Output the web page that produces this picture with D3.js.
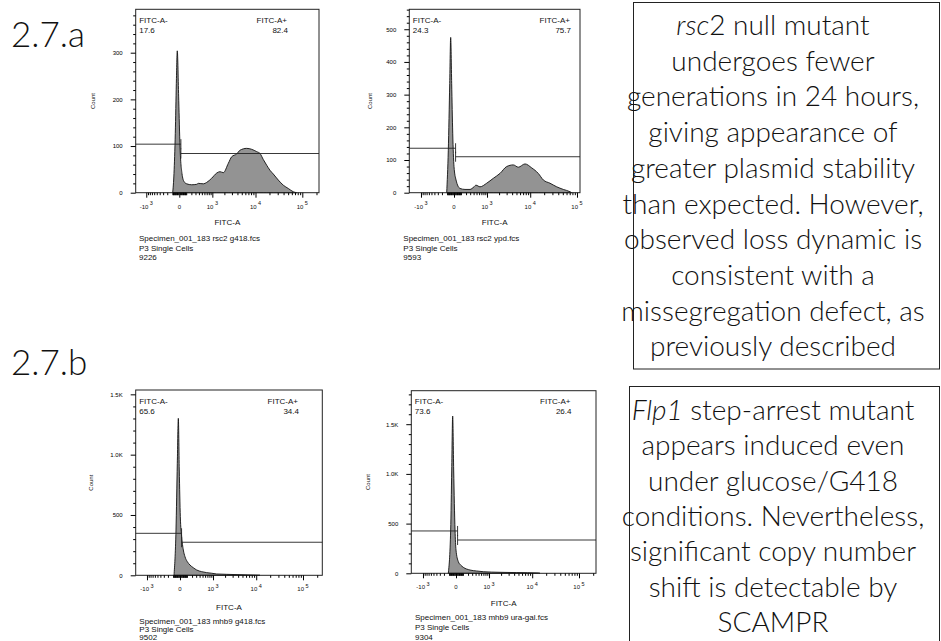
<!DOCTYPE html>
<html><head><meta charset="utf-8">
<script src="https://cdn.jsdelivr.net/npm/d3@7"></script>
<style>body{margin:0;background:#fff}svg{display:block}</style>
</head><body>
<svg id="c" width="941" height="641"></svg>
<script>
// ---------- DATA ----------
const p1Fitc  = [-95,-74,-54,-39,-26,-7,9,35,64,109,207,334,382,557,699,961,1294,1567,1888,2478,2958,3843,4568,6415,8250,10600,12513,14760,17408,20525,24175,30925,39525,50500,64450,75950];
const p1Count = [0,41,127,234,304,198,98,41,24,19,17,18,20,19,22,31,42,45,43,63,77,83,91,95,93,88,84,71,59,48,40,27,16,9,2,0];
const p2Fitc  = [-107,-80,-58,-44,-30,-16,0,26,85,177,296,413,480,638,980,1447,2102,3008,4248,5490,7710,10765,14950,19150,26650,37075,51150,71000,77175];
const p2Count = [0,130,334,475,334,182,80,39,13,10,10,18,23,18,29,44,59,80,85,78,88,76,59,39,29,18,10,3,0];
const p3Fitc  = [-85,-54,-35,-21,-9,4,21,44,69,107,157,228,314,470,668,922,1245,2184,4405,12080];
const p3Count = [0,375,928,1301,873,486,320,210,154,113,85,63,44,30,22,17,11,8,5,0];
const p4Fitc  = [-114,-74,-58,-44,-30,-12,0,30,64,107,244,436,696,1883,4568,13550,14745];
const p4Count = [0,436,1039,1582,1039,436,234,117,83,60,33,23,16,10,7,3,0];

const gateThreshold = [20,20,20,20];
const gateNegCount  = [104,136,348,426];
const gatePosCount  = [84,110,274,335];
const negLabel = "FITC-A-";
const posLabel = "FITC-A+";
const negPercent = ["17.6","24.3","65.6","73.6"];
const posPercent = ["82.4","75.7","34.4","26.4"];
const fileNames = ["Specimen_001_183 rsc2 g418.fcs","Specimen_001_183 rsc2 ypd.fcs","Specimen_001_183 mhb9 g418.fcs","Specimen_001_183 mhb9 ura-gal.fcs"];
const populations = ["P3 Single Cells","P3 Single Cells","P3 Single Cells","P3 Single Cells"];
const eventCounts = ["9226","9593","9502","9304"];
const yTickValues = [[0,100,200,300],[0,100,200,300,400,500],[0,500,1000,1500],[0,500,1000,1500]];
const yTickLabels = [["0","100","200","300"],["0","100","200","300","400","500"],["0","500","1.0K","1.5K"],["0","500","1.0K","1.5K"]];
const xTickValues = [-1000,0,1000,10000,100000];
const xTickBase   = ["-10","0","10","10","10"];
const xTickExp    = ["3","","3","4","5"];
const xAxisTitle = "FITC-A";
const yAxisTitle = "Count";
const sectionLabels = ["2.7.a","2.7.b"];
const noteA = ["*rsc*2 null mutant","undergoes fewer","generations in 24 hours,","giving appearance of","greater plasmid stability","than expected. However,","observed loss dynamic is","consistent with a","missegregation defect, as","previously described"];
const noteB = ["*Flp1* step-arrest mutant","appears induced even","under glucose/G418","conditions. Nevertheless,","significant copy number","shift is detectable by","SCAMPR"];

// ---------- LAYOUT ----------
const layout = [
 {x0:135.7,x1:319,  y0:9.3,  y1:192.7,xMin:-1843,xMax:225975,yMax:393, yMinor:20, countX:93, posX:288, infoX:139,  titleY:224.5,infoY:[241,250.5,260]},
 {x0:409.3,x1:580,  y0:9.3,  y1:192.7,xMin:-1958,xMax:115800,yMax:561, yMinor:20, countX:370,posX:571, infoX:403.3,titleY:224.5,infoY:[241,250.5,260]},
 {x0:135.7,x1:322.3,y0:390,  y1:575.3,xMin:-1915,xMax:256530,yMax:1536,yMinor:100,countX:91, posX:299, infoX:139.3,titleY:609.5,infoY:[623.5,632,640]},
 {x0:411.3,x1:596,  y0:390.7,y1:573.3,xMin:-1958,xMax:229350,yMax:1837,yMinor:100,countX:368,posX:571.5,infoX:415,titleY:606,infoY:[620.3,630,639.5]}
];
const fitcSets = [p1Fitc,p2Fitc,p3Fitc,p4Fitc];
const countSets = [p1Count,p2Count,p3Count,p4Count];
const small = "Liberation Sans, Arial, sans-serif";
const big = "Lato, 'Open Sans', sans-serif";

const svg = d3.select("#c");

layout.forEach((L,i)=>{
  const g = svg.append("g");
  const x = d3.scaleSymlog().constant(250).domain([L.xMin,L.xMax]).range([L.x0,L.x1]);
  const y = d3.scaleLinear().domain([0,L.yMax]).range([L.y1,L.y0]);
  const pts = fitcSets[i].map((v,j)=>[v,countSets[i][j]]);
  const area = d3.area().x(d=>x(d[0])).y0(y(0)).y1(d=>y(d[1])).curve(d3.curveMonotoneX);
  g.append("path").attr("d",area(pts)).attr("fill","#939393").attr("stroke","#111").attr("stroke-width",0.9);

  // gates
  const gates = [
    {a:L.xMin,b:gateThreshold[i],c:gateNegCount[i],end:gateThreshold[i]},
    {a:gateThreshold[i],b:L.xMax,c:gatePosCount[i],end:gateThreshold[i]}
  ];
  gates.forEach(G=>{
    g.append("line").attr("x1",x(G.a)).attr("x2",x(G.b)).attr("y1",y(G.c)).attr("y2",y(G.c))
     .attr("stroke","#222").attr("stroke-width",0.9);
    g.append("line").attr("x1",x(G.end)).attr("x2",x(G.end)).attr("y1",y(G.c)-5).attr("y2",y(G.c)+5)
     .attr("stroke","#222").attr("stroke-width",0.9);
  });

  // frame
  g.append("rect").attr("x",L.x0).attr("y",L.y0).attr("width",L.x1-L.x0).attr("height",L.y1-L.y0)
   .attr("fill","none").attr("stroke","#222").attr("stroke-width",1);

  // y axis
  const ya = g.append("g").attr("transform",`translate(${L.x0},0)`)
    .call(d3.axisLeft(y).tickValues(yTickValues[i]).tickSize(5).tickPadding(8)
      .tickFormat((d,k)=>yTickLabels[i][k]));
  ya.select(".domain").remove();
  ya.attr("font-size",6).attr("font-family",small);
  const yMinorVals = d3.range(0,L.yMax,L.yMinor).filter(v=>!yTickValues[i].includes(v));
  const ym = g.append("g").attr("transform",`translate(${L.x0},0)`)
    .call(d3.axisLeft(y).tickValues(yMinorVals).tickSize(2.5).tickFormat(""));
  ym.select(".domain").remove();

  // x axis
  const xa = g.append("g").attr("transform",`translate(0,${L.y1})`)
    .call(d3.axisBottom(x).tickValues(xTickValues).tickSize(5).tickFormat(""));
  xa.select(".domain").remove();
  const minors = [];
  for (let n=1;n<=5;n++) for (let k=1;k<=9;k++){
    const v = k*Math.pow(10,n);
    [v,-v].forEach(w=>{ if (w>L.xMin && w<L.xMax && !xTickValues.includes(w)) minors.push(w); });
  }
  const xm = g.append("g").attr("transform",`translate(0,${L.y1})`)
    .call(d3.axisBottom(x).tickValues(minors).tickSize(2.5).tickFormat(""));
  xm.select(".domain").remove();
  xTickValues.forEach((v,k)=>{
    const t = g.append("text").attr("x",x(v)).attr("y",L.y1+16).attr("text-anchor","middle")
      .attr("font-family",small).attr("font-size",6).attr("fill","#111");
    t.append("tspan").text(xTickBase[k]);
    if (xTickExp[k]) t.append("tspan").attr("dx",1.5).attr("dy",-3.5).attr("font-size",5.5).text(xTickExp[k]);
  });

  // titles
  g.append("text").attr("x",(L.x0+L.x1)/2).attr("y",L.titleY).attr("text-anchor","middle")
    .attr("font-family",small).attr("font-size",8).attr("fill","#111").text(xAxisTitle);
  g.append("text").attr("transform",`translate(${L.countX},${(L.y0+L.y1)/2}) rotate(-90)`)
    .attr("text-anchor","middle").attr("dy","0.35em")
    .attr("font-family",small).attr("font-size",6).attr("fill","#111").text(yAxisTitle);

  // gate labels
  const gl = (tx,xx,yy,anchor)=>g.append("text").attr("x",xx).attr("y",yy).attr("text-anchor",anchor)
    .attr("font-family",small).attr("font-size",8).attr("fill","#111").text(tx);
  gl(negLabel,L.x0+3.5,L.y0+13.5,"start");
  gl(negPercent[i],L.x0+3.5,L.y0+23.5,"start");
  gl(posLabel,L.posX-1,L.y0+13.5,"end");
  gl(posPercent[i],L.posX,L.y0+23.5,"end");

  // info lines
  [fileNames[i],populations[i],eventCounts[i]].forEach((s,k)=>{
    g.append("text").attr("x",L.infoX).attr("y",L.infoY[k]).attr("font-family",small)
      .attr("font-size",8).attr("fill","#111").text(s);
  });
});

// section labels
svg.append("text").attr("x",11).attr("y",46.7).attr("font-family",big).attr("font-weight",300)
  .attr("font-size",35).attr("fill","#111").text(sectionLabels[0]);
svg.append("text").attr("x",11).attr("y",375).attr("font-family",big).attr("font-weight",300)
  .attr("font-size",35).attr("fill","#111").text(sectionLabels[1]);

// note boxes
svg.append("rect").attr("x",633.5).attr("y",2.5).attr("width",306).attr("height",366.5)
  .attr("fill","none").attr("stroke","#222").attr("stroke-width",1);
svg.append("rect").attr("x",629.5).attr("y",386.5).attr("width",310).attr("height",260)
  .attr("fill","none").attr("stroke","#222").attr("stroke-width",1);

function note(lines, y0, dy){
  lines.forEach((s,k)=>{
    const t = svg.append("text").attr("x",773).attr("y",y0+k*dy).attr("text-anchor","middle")
      .attr("font-family",big).attr("font-weight",300).attr("font-size",28).attr("fill","#111");
    const parts = s.split("*");
    parts.forEach((p,j)=>{ if (p) t.append("tspan").attr("font-style", j%2? "italic":"normal").text(p); });
  });
}
note(noteA,35,35.7);
note(noteB,420,35.3);
</script>
</body></html>
